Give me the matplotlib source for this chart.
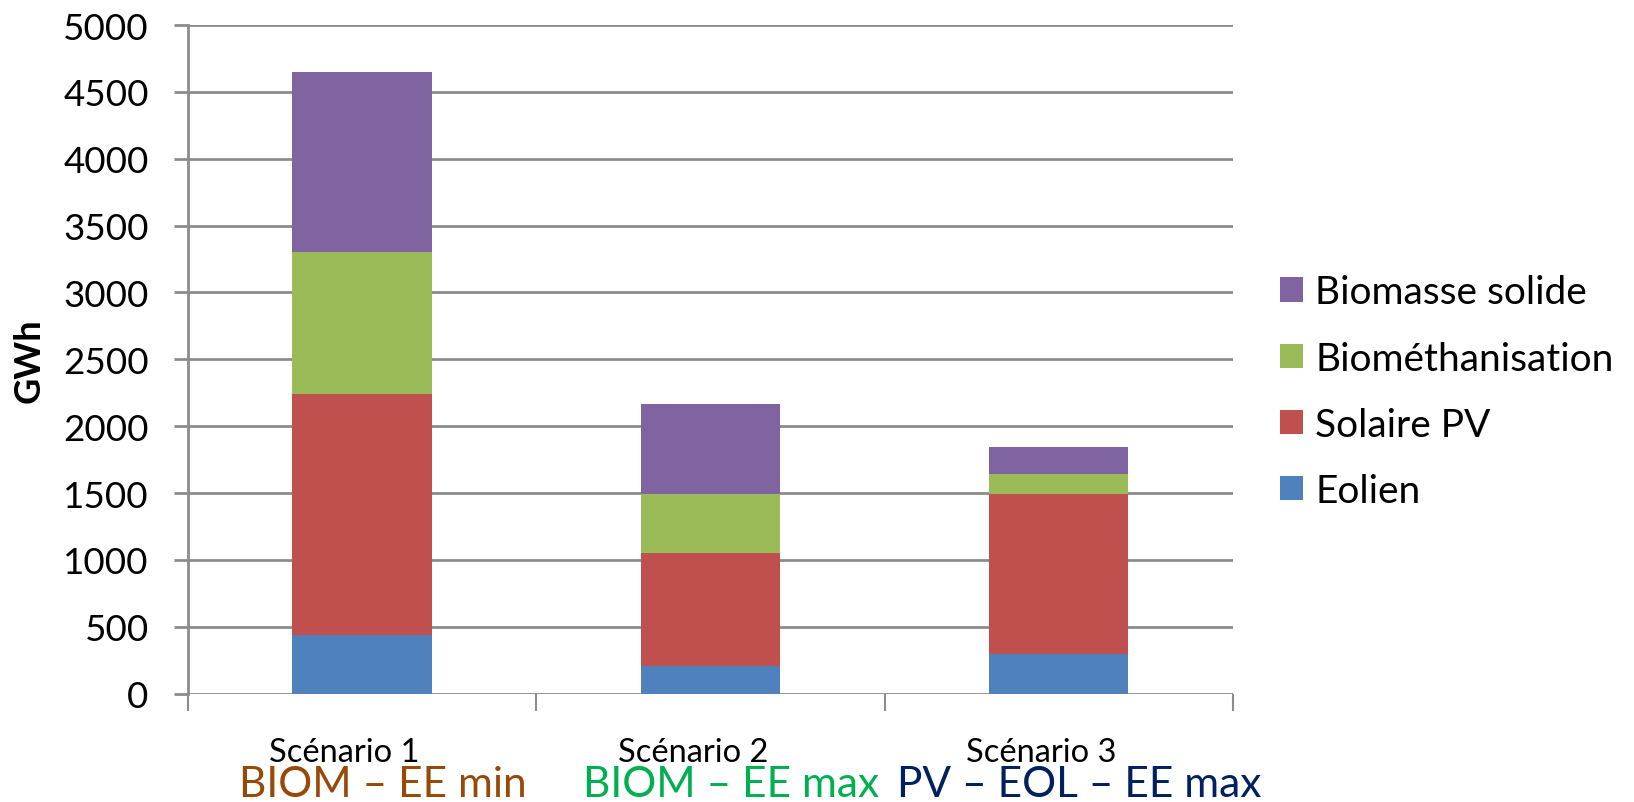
import numpy as np
import matplotlib
matplotlib.use("Agg")
import matplotlib.pyplot as plt
import matplotlib.transforms as mtransforms
from matplotlib.patches import Patch

plt.rcParams['font.family'] = ['Lato', 'DejaVu Sans']

# Data (GWh)
scenarios = ['Scénario 1', 'Scénario 2', 'Scénario 3']
subtitles = ['BIOM – EE min', 'BIOM – EE max', 'PV – EOL – EE max']
subtitle_colors = ['#984807', '#00B050', '#002060']
eolien = [440, 205, 300]
solaire_pv = [1800, 845, 1195]
biomethanisation = [1060, 445, 150]
biomasse_solide = [1350, 670, 200]

series = [
    ('Eolien', eolien, '#4F81BD'),
    ('Solaire PV', solaire_pv, '#C0504D'),
    ('Biométhanisation', biomethanisation, '#9BBB59'),
    ('Biomasse solide', biomasse_solide, '#8064A2'),
]

GRID = '#8C8C8C'

fig = plt.figure(figsize=(16.34, 8.03), dpi=100)
ax = fig.add_axes([0.1148, 0.1349, 0.7546 - 0.1148, 0.9676 - 0.1349])

x = np.arange(len(scenarios))
bottom = np.zeros(len(scenarios))
for name, vals, color in series:
    ax.bar(x, vals, width=0.4, bottom=bottom, color=color, label=name, zorder=3)
    bottom += np.array(vals)

ax.set_xlim(-0.5, 2.5)
ax.set_ylim(0, 5000)
ax.set_yticks(np.arange(0, 5001, 500))
ax.yaxis.grid(True, color=GRID, linewidth=2, zorder=0)
ax.set_axisbelow(True)

for side in ['top', 'right', 'bottom']:
    ax.spines[side].set_visible(False)
ax.spines['left'].set_color(GRID)
ax.spines['left'].set_linewidth(2)

# category boundary ticks on x axis
ax.set_xticks([-0.5, 0.5, 1.5, 2.5])
ax.set_xticklabels([])
ax.tick_params(axis='x', length=12, width=1.5, color=GRID)
ax.tick_params(axis='y', length=10, width=2, color=GRID, labelsize=26.5, pad=18)

ax.set_ylabel('GWh', fontsize=26, fontweight='bold', va='center')
ax.yaxis.set_label_coords(-0.1517, 0.5)

# two-line category labels
trans = mtransforms.blended_transform_factory(ax.transData, fig.transFigure)
for i in range(len(scenarios)):
    ax.text(x[i] - 0.05, 0.062, scenarios[i], transform=trans, ha='center',
            va='center', fontsize=23.5, color='black')
    ax.text(x[i] + 0.06, 0.022, subtitles[i], transform=trans, ha='center',
            va='center', fontsize=30.5, color=subtitle_colors[i])

handles = [Patch(facecolor=c, label=n) for n, _, c in series][::-1]
fig.legend(handles=handles, loc='center left', bbox_to_anchor=(0.7834, 0.511),
           frameon=False, fontsize=28, handlelength=0.59, handleheight=0.59,
           handletextpad=0.32, labelspacing=0.776, borderpad=0, borderaxespad=0)

fig.savefig('out.png', dpi=100)
